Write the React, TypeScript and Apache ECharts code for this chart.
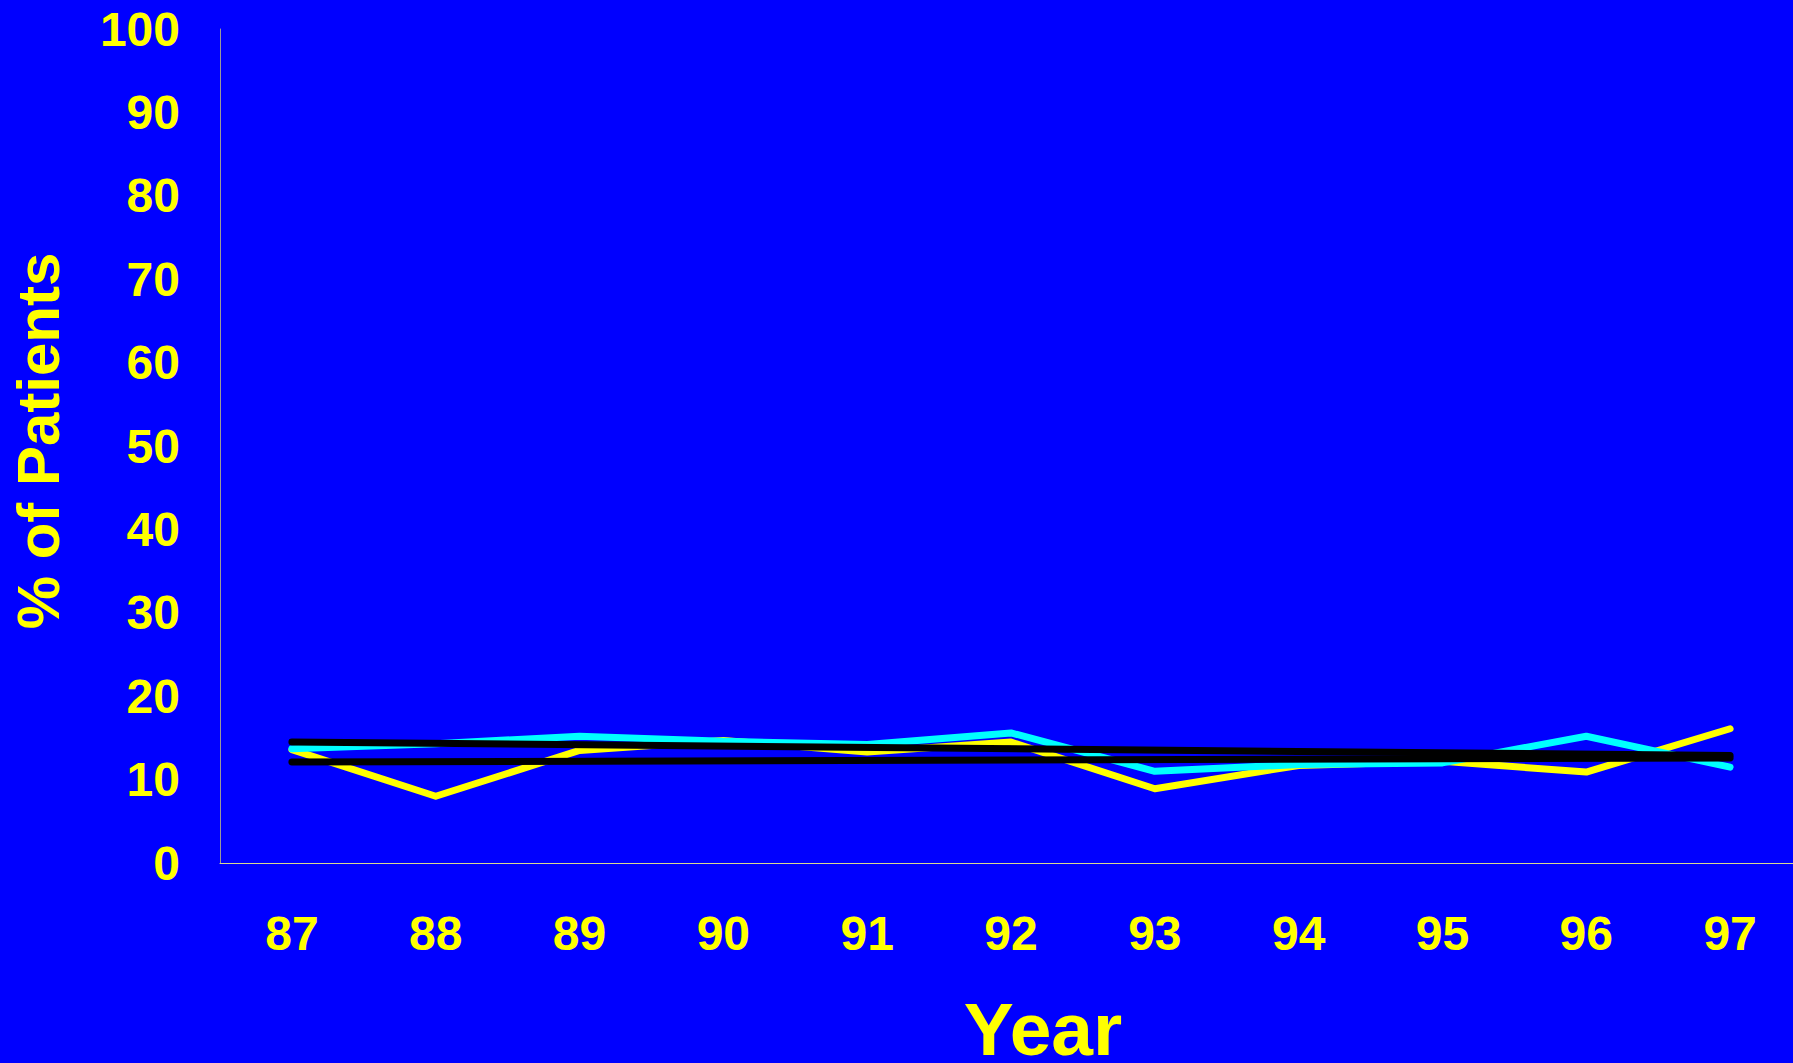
import React, { useEffect, useRef } from "react";
import * as echarts from "echarts";

// Survey years shown along the x axis
const years = ["87", "88", "89", "90", "91", "92", "93", "94", "95", "96", "97"];

// Percentage of patients per year, two groups
const yellowSeries = [13.6, 8.0, 13.5, 14.7, 13.3, 14.5, 8.9, 11.7, 12.2, 10.9, 16.1];
const cyanSeries = [13.7, 14.3, 15.2, 14.6, 14.2, 15.6, 11.0, 11.8, 12.0, 15.2, 11.5];

// Straight trend lines, start and end points
const trendA: [string, number][] = [["87", 14.5], ["97", 12.9]];
const trendB: [string, number][] = [["87", 12.1], ["97", 12.6]];

// Y axis range
const yMin = 0;
const yMax = 100;
const yStep = 10;

const FONT = "Arial, 'Liberation Sans', Helvetica, sans-serif";

export default function App() {
  const ref = useRef<HTMLDivElement>(null);

  useEffect(() => {
    if (!ref.current) return;
    const chart = echarts.init(ref.current, null, { renderer: "svg" });
    const lineBase = { type: "line" as const, showSymbol: false, symbol: "none" };
    chart.setOption({
      animation: false,
      backgroundColor: "#0000FF",
      grid: { left: 220, top: 29, right: 0, bottom: 200, containLabel: false },
      xAxis: {
        type: "category",
        data: years,
        boundaryGap: true,
        axisLine: { show: true, lineStyle: { color: "#d8d890", width: 1 } },
        axisTick: { show: false },
        splitLine: { show: false },
        axisLabel: {
          color: "#FFFF00",
          fontFamily: FONT,
          fontWeight: "bold",
          fontSize: 48,
          margin: 46,
        },
      },
      yAxis: {
        type: "value",
        min: yMin,
        max: yMax,
        interval: yStep,
        axisLine: { show: true, lineStyle: { color: "#999999", width: 1 } },
        axisTick: { show: false },
        splitLine: { show: false },
        axisLabel: {
          color: "#FFFF00",
          fontFamily: FONT,
          fontWeight: "bold",
          fontSize: 48,
          margin: 40,
        },
      },
      graphic: [
        {
          type: "text",
          x: 38,
          y: 441,
          rotation: Math.PI / 2,
          style: {
            text: "% of Patients",
            fill: "#FFFF00",
            font: `bold 60px ${FONT}`,
            textAlign: "center",
            textVerticalAlign: "middle",
          },
        },
        {
          type: "text",
          x: 1043,
          y: 1029,
          style: {
            text: "Year",
            fill: "#FFFF00",
            font: `bold 75px ${FONT}`,
            textAlign: "center",
            textVerticalAlign: "middle",
          },
        },
      ],
      series: [
        {
          ...lineBase,
          name: "Group 1",
          data: yellowSeries,
          lineStyle: { color: "#FFFF00", width: 7, cap: "round", join: "round" },
          z: 2,
        },
        {
          ...lineBase,
          name: "Group 2",
          data: cyanSeries,
          lineStyle: { color: "#00FFFF", width: 7, cap: "round", join: "round" },
          z: 3,
        },
        {
          ...lineBase,
          name: "Trend 1",
          data: trendA,
          lineStyle: { color: "#000000", width: 7, cap: "round" },
          z: 4,
        },
        {
          ...lineBase,
          name: "Trend 2",
          data: trendB,
          lineStyle: { color: "#000000", width: 7, cap: "round" },
          z: 4,
        },
      ],
    });
    return () => chart.dispose();
  }, []);

  // The plot runs a little past the right edge, so the chart is wider than its frame
  return (
    <div
      style={{
        position: "absolute",
        left: 0,
        top: 0,
        width: 1793,
        height: 1063,
        overflow: "hidden",
        background: "#0000FF",
      }}
    >
      <div ref={ref} style={{ width: 1802, height: 1063 }} />
    </div>
  );
}
